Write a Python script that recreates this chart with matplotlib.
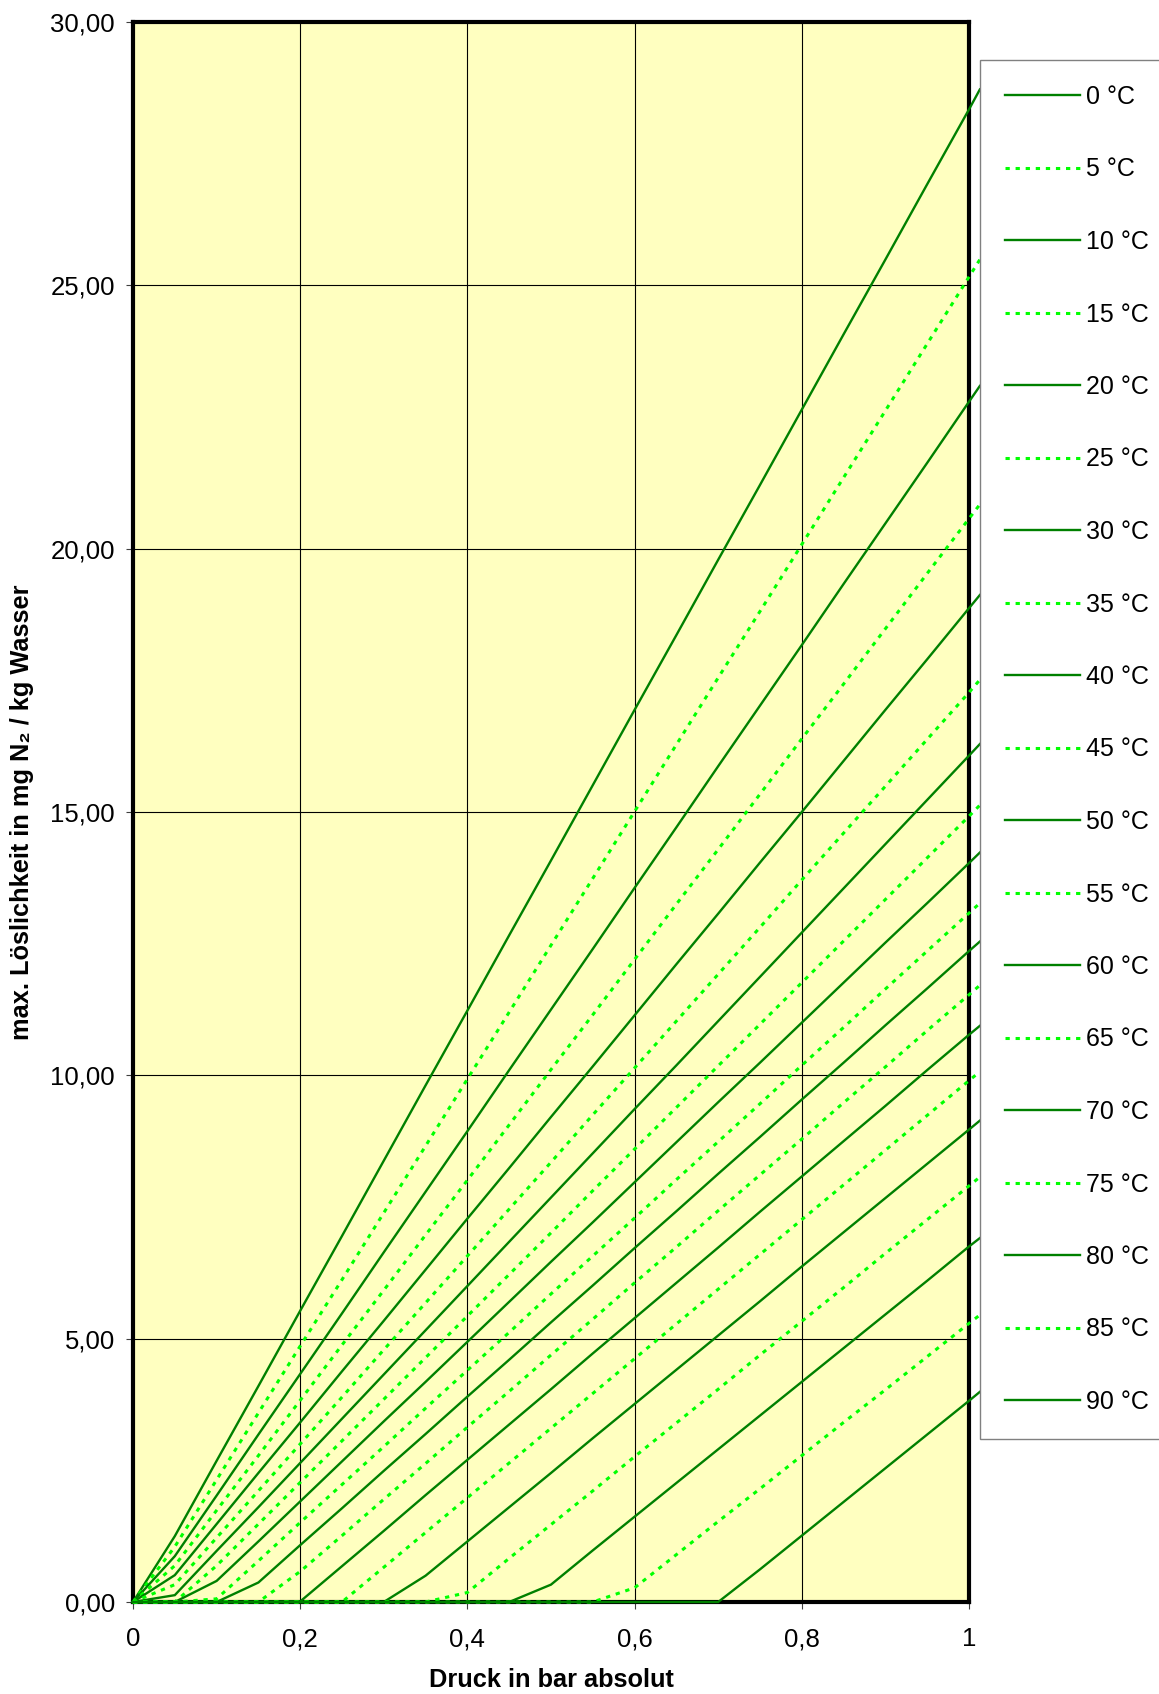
import matplotlib
matplotlib.use("Agg")
import matplotlib.pyplot as plt
from matplotlib.ticker import FixedLocator, FixedFormatter

plt.rcParams['font.family'] = ['Liberation Sans', 'DejaVu Sans']

# ---- data ----
pressure = [0, 0.05, 0.10, 0.15, 0.20, 0.25, 0.30, 0.35, 0.40, 0.45, 0.50,
            0.55, 0.60, 0.65, 0.70, 0.75, 0.80, 0.85, 0.90, 0.95, 1.00, 1.013]

labels = ['0 °C', '5 °C', '10 °C', '15 °C', '20 °C', '25 °C', '30 °C', '35 °C',
          '40 °C', '45 °C', '50 °C', '55 °C', '60 °C', '65 °C', '70 °C', '75 °C',
          '80 °C', '85 °C', '90 °C']

s0 = [0, 1.25, 2.68, 4.10, 5.53, 6.95, 8.38, 9.81, 11.23, 12.66, 14.08, 15.51, 16.94, 18.36, 19.79, 21.21, 22.64, 24.07, 25.49, 26.92, 28.34, 28.72]
s5 = [0, 1.05, 2.32, 3.59, 4.86, 6.12, 7.39, 8.66, 9.93, 11.20, 12.47, 13.74, 15.01, 16.28, 17.55, 18.81, 20.08, 21.35, 22.62, 23.89, 25.16, 25.49]
s10 = [0, 0.87, 2.02, 3.18, 4.33, 5.48, 6.64, 7.79, 8.94, 10.10, 11.25, 12.40, 13.56, 14.71, 15.87, 17.02, 18.17, 19.33, 20.48, 21.63, 22.79, 23.09]
s15 = [0, 0.69, 1.74, 2.78, 3.83, 4.88, 5.92, 6.97, 8.01, 9.06, 10.11, 11.15, 12.20, 13.25, 14.29, 15.34, 16.39, 17.43, 18.48, 19.53, 20.57, 20.84]
s20 = [0, 0.51, 1.48, 2.45, 3.41, 4.38, 5.34, 6.31, 7.28, 8.24, 9.21, 10.17, 11.14, 12.11, 13.07, 14.04, 15.00, 15.97, 16.94, 17.90, 18.87, 19.12]
s25 = [0, 0.33, 1.22, 2.11, 3.00, 3.89, 4.79, 5.68, 6.57, 7.46, 8.35, 9.25, 10.14, 11.03, 11.92, 12.81, 13.71, 14.60, 15.49, 16.38, 17.27, 17.51]
s30 = [0, 0.13, 0.97, 1.80, 2.64, 3.48, 4.32, 5.16, 6.00, 6.84, 7.68, 8.52, 9.36, 10.19, 11.03, 11.87, 12.71, 13.55, 14.39, 15.23, 16.07, 16.29]
s35 = [0, 0, 0.69, 1.48, 2.27, 3.06, 3.85, 4.64, 5.43, 6.22, 7.01, 7.81, 8.60, 9.39, 10.18, 10.97, 11.76, 12.55, 13.34, 14.13, 14.92, 15.13]
s40 = [0, 0, 0.40, 1.15, 1.91, 2.67, 3.43, 4.18, 4.94, 5.70, 6.46, 7.21, 7.97, 8.73, 9.49, 10.24, 11.00, 11.76, 12.52, 13.27, 14.03, 14.23]
s45 = [0, 0, 0.06, 0.78, 1.51, 2.23, 2.95, 3.68, 4.40, 5.12, 5.85, 6.57, 7.29, 8.02, 8.74, 9.46, 10.19, 10.91, 11.64, 12.36, 13.08, 13.27]
s50 = [0, 0, 0, 0.37, 1.08, 1.78, 2.49, 3.19, 3.90, 4.60, 5.31, 6.01, 6.72, 7.42, 8.13, 8.83, 9.54, 10.24, 10.95, 11.65, 12.36, 12.54]
s55 = [0, 0, 0, 0, 0.58, 1.26, 1.95, 2.63, 3.32, 4.00, 4.69, 5.37, 6.06, 6.74, 7.43, 8.11, 8.79, 9.48, 10.16, 10.85, 11.53, 11.71]
s60 = [0, 0, 0, 0, 0.01, 0.68, 1.35, 2.03, 2.70, 3.37, 4.04, 4.72, 5.39, 6.06, 6.73, 7.41, 8.08, 8.75, 9.42, 10.10, 10.77, 10.94]
s65 = [0, 0, 0, 0, 0, 0, 0.66, 1.32, 1.98, 2.64, 3.30, 3.96, 4.62, 5.28, 5.94, 6.60, 7.26, 7.92, 8.58, 9.24, 9.90, 10.07]
s70 = [0, 0, 0, 0, 0, 0, 0, 0.50, 1.15, 1.80, 2.45, 3.11, 3.76, 4.41, 5.06, 5.71, 6.37, 7.02, 7.67, 8.32, 8.97, 9.14]
s75 = [0, 0, 0, 0, 0, 0, 0, 0, 0.18, 0.83, 1.47, 2.11, 2.76, 3.40, 4.04, 4.69, 5.33, 5.97, 6.62, 7.26, 7.90, 8.07]
s80 = [0, 0, 0, 0, 0, 0, 0, 0, 0, 0, 0.33, 0.98, 1.62, 2.26, 2.90, 3.54, 4.18, 4.82, 5.46, 6.10, 6.75, 6.91]
s85 = [0, 0, 0, 0, 0, 0, 0, 0, 0, 0, 0, 0, 0.27, 0.90, 1.53, 2.15, 2.78, 3.41, 4.03, 4.66, 5.29, 5.45]
s90 = [0, 0, 0, 0, 0, 0, 0, 0, 0, 0, 0, 0, 0, 0, 0, 0.62, 1.26, 1.90, 2.54, 3.18, 3.82, 3.99]

series = [s0, s5, s10, s15, s20, s25, s30, s35, s40, s45, s50, s55, s60, s65,
          s70, s75, s80, s85, s90]

x_ticks = [0, 0.2, 0.4, 0.6, 0.8, 1.0]
x_tick_labels = ['0', '0,2', '0,4', '0,6', '0,8', '1']
y_ticks = [0, 5, 10, 15, 20, 25, 30]
y_tick_labels = ['0,00', '5,00', '10,00', '15,00', '20,00', '25,00', '30,00']

x_title = 'Druck in bar absolut'
y_title = 'max. Löslichkeit in mg N₂ / kg Wasser'

# ---- figure ----
W, H = 1159, 1694
fig = plt.figure(figsize=(W / 100, H / 100), dpi=100)
ax = fig.add_axes([133 / W, 1 - 1602 / H, 836 / W, 1580 / H])
ax.set_facecolor('#FFFFC0')

for i, (ys, lab) in enumerate(zip(series, labels)):
    if i % 2 == 0:
        ax.plot(pressure, ys, color='#008000', lw=1.7, ls='-', label=lab,
                clip_on=False, zorder=3, solid_joinstyle='miter')
    else:
        ax.plot(pressure, ys, color='#00FF00', lw=2.2, ls=(0, (1.4, 1.9)),
                label=lab, clip_on=False, zorder=3)

ax.set_xlim(0, 1)
ax.set_ylim(0, 30)
ax.xaxis.set_major_locator(FixedLocator(x_ticks))
ax.xaxis.set_major_formatter(FixedFormatter(x_tick_labels))
ax.yaxis.set_major_locator(FixedLocator(y_ticks))
ax.yaxis.set_major_formatter(FixedFormatter(y_tick_labels))
ax.grid(True, color='black', lw=0.8, zorder=1)
ax.set_axisbelow(True)

for sp in ax.spines.values():
    sp.set_linewidth(3.0)
    sp.set_color('black')
    sp.set_zorder(2.5)

ax.tick_params(axis='both', direction='out', length=5, width=0.8,
               color='#404040', labelsize=18.5, labelcolor='black')
ax.tick_params(axis='x', pad=13)
ax.tick_params(axis='y', pad=8)

ax.set_xlabel(x_title, fontsize=18.3, fontweight='bold')
ax.xaxis.set_label_coords(0.5, -0.042)
ax.set_ylabel(y_title, fontsize=18.3, fontweight='bold')
ax.yaxis.set_label_coords(-0.118, 0.5)

leg = fig.legend(loc='upper left', bbox_to_anchor=(980 / W, 1 - 60 / H),
                 bbox_transform=fig.transFigure, borderaxespad=0,
                 frameon=True, fancybox=False, edgecolor='#808080',
                 framealpha=1, handlelength=3.0, handletextpad=0.25,
                 labelspacing=1.94, borderpad=1.0, fontsize=18)
leg.get_frame().set_linewidth(1.0)

fig.savefig('out.png', dpi=100)
